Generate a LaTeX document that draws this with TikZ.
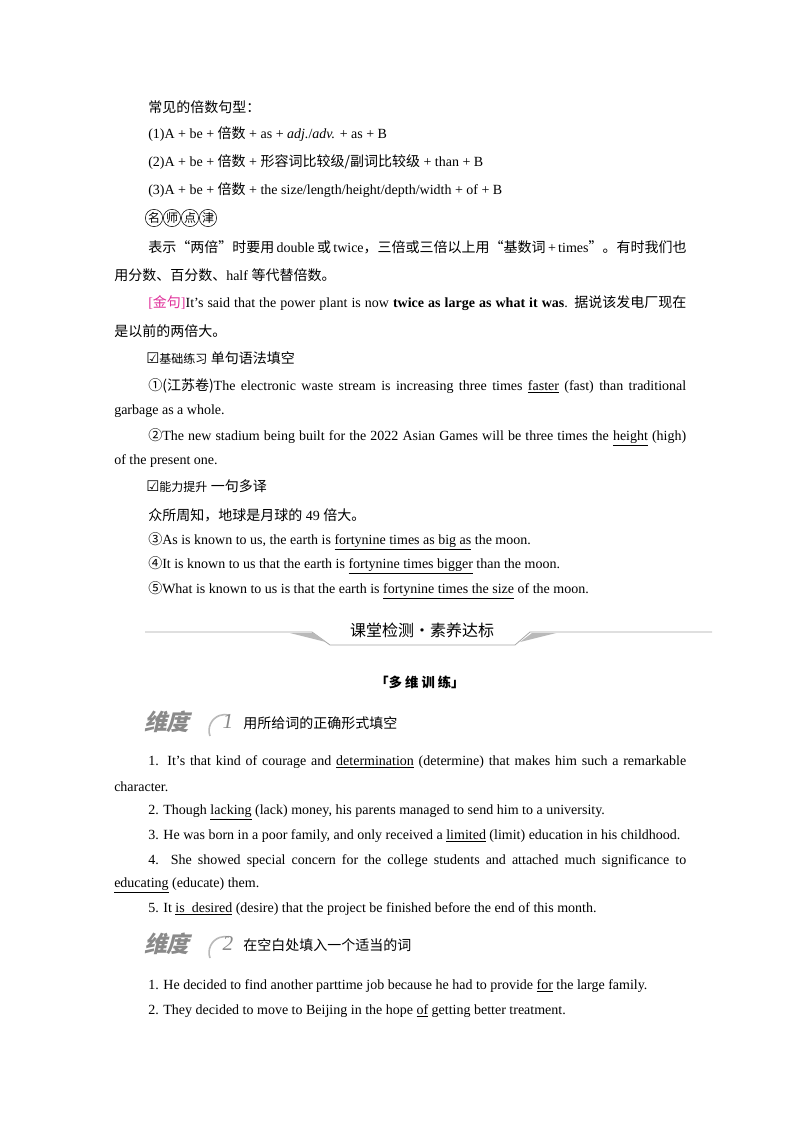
\documentclass[tikz,border=0pt]{standalone}
\usepackage{fontspec}
\setmainfont{Liberation Serif}
\newfontfamily\cjk{Noto Sans CJK SC}
\newfontfamily\dvs{DejaVu Sans}
\newcommand\zh[1]{{\cjk #1}}
\newcommand\jl[1]{\makebox[403.5pt][s]{#1}}
\definecolor{mag}{HTML}{E0309A}
\definecolor{ic}{HTML}{8A8A8A}
\begin{document}
\begin{tikzpicture}[x=0.75pt,y=-0.75pt,
  tx/.style={anchor=west,inner sep=0pt,font=\fontsize{10.5}{12}\selectfont},
  circ/.style={draw,circle,inner sep=0pt,minimum size=13pt,font=\fontsize{9}{10}\selectfont\cjk},
  gr/.style={draw=gray!70,line width=0.6pt},
  wedge/.style={fill=gray!55,draw=none}]
\useasboundingbox[fill=white] (0,0) rectangle (800,1132);
\node[tx] (a1) at (148,107) {\zh{常见的倍数句型：}};
\node[tx] (a2) at (148,134) {(1)A + be + \zh{倍数} + as + \textit{adj.}/\textit{adv.} + as + B};
\node[tx] (a3) at (148,162) {(2)A + be + \zh{倍数} + \zh{形容词比较级/副词比较级} + than + B};
\node[tx] (a4) at (148,190) {(3)A + be + \zh{倍数} + the size/length/height/depth/width + of + B};
\node[circ] (c1) at (154,218) {名};
\node[circ] (c2) at (172,218) {师};
\node[circ] (c3) at (190,218) {点};
\node[circ] (c4) at (208,218) {津};
\node[tx] (a5) at (148,247) {\jl{\zh{表示“两倍”时要用} double \zh{或} twice\zh{，三倍或三倍以上用“基数词} + times\zh{”。有时我们也}}};
\node[tx] (a6) at (114,275) {\zh{用分数、百分数、}half \zh{等代替倍数。}};
\node[tx] (a7) at (148,303) {\jl{\textcolor{mag}{[\zh{金句}]}It's said that the power plant is now \textbf{twice as large as what it was}. \zh{据说该发电厂现在}}};
\node[tx] (a8) at (114,331) {\zh{是以前的两倍大。}};
\node[tx] (a9) at (146,358) {{\dvs\fontsize{11}{12}\selectfont ☑}{\cjk\fontsize{9}{10}\selectfont 基础练习} \zh{单句语法填空}};
\node[tx] (b1) at (148,386) {\jl{\zh{①(江苏卷)}The electronic waste stream is increasing three times \underline{faster} (fast) than traditional}};
\node[tx] (b2) at (114,411) {garbage as a whole.};
\node[tx] (b3) at (148,437) {\jl{\zh{②}The new stadium being built for the 2022 Asian Games will be three times the \underline{height} (high)}};
\node[tx] (b4) at (114,461) {of the present one.};
\node[tx] (b5) at (146,486) {{\dvs\fontsize{11}{12}\selectfont ☑}{\cjk\fontsize{9}{10}\selectfont 能力提升} \zh{一句多译}};
\node[tx] (b6) at (148,515) {\zh{众所周知，地球是月球的} 49 \zh{倍大。}};
\node[tx] (b7) at (148,541) {\zh{③}As is known to us, the earth is \underline{fortynine\ times\ as\ big\ as} the moon.};
\node[tx] (b8) at (148,565) {\zh{④}It is known to us that the earth is \underline{fortynine\ times\ bigger} than the moon.};
\node[tx] (b9) at (148,590) {\zh{⑤}What is known to us is that the earth is \underline{fortynine\ times\ the\ size} of the moon.};
% banner
\coordinate (p0) at (145,632); \coordinate (p5) at (712,632);
\draw[gr] (p0) -- (312,632) -- (330,645) -- (515,645) -- (530,632) -- (p5);
\fill[wedge] (290,633) -- (314,633) -- (326,642) -- cycle;
\fill[wedge] (532,633) -- (556,633) -- (520,642) -- cycle;
\node[inner sep=0pt,font=\fontsize{12}{14}\selectfont\cjk] (ban) at (422,630) {课堂检测·素养达标};
\node[inner sep=0pt,font=\fontsize{10}{12}\selectfont\cjk\bfseries] (dw) at (420,682) {「多 维 训 练」};
% weidu 1
\node[anchor=west,inner sep=0pt,text=ic,font=\fontsize{17}{18}\selectfont\cjk\bfseries,xslant=0.25] (w1) at (146,722) {维度};
\draw[ic!60,line width=1.2pt] (210,736) arc[start angle=160,end angle=285,radius=16];
\node[inner sep=0pt,text=ic,font=\fontsize{16}{16}\selectfont\itshape] (n1) at (228,721) {1};
\node[tx] (w1t) at (243,723) {\zh{用所给词的正确形式填空}};
\node[tx] (d1) at (148,762) {\jl{1. It's that kind of courage and \underline{determination} (determine) that makes him such a remarkable}};
\node[tx] (d2) at (114,787) {character.};
\node[tx] (d3) at (148,812) {2. Though \underline{lacking} (lack) money, his parents managed to send him to a university.};
\node[tx] (d4) at (148,836) {3. He was born in a poor family, and only received a \underline{limited} (limit) education in his childhood.};
\node[tx] (d5) at (148,861) {\jl{4. She showed special concern for the college students and attached much significance to}};
\node[tx] (d6) at (114,885) {\underline{educating} (educate) them.};
\node[tx] (d7) at (148,909) {5. It \underline{is\ \ desired} (desire) that the project be finished before the end of this month.};
% weidu 2
\node[anchor=west,inner sep=0pt,text=ic,font=\fontsize{17}{18}\selectfont\cjk\bfseries,xslant=0.25] (w2) at (146,944) {维度};
\draw[ic!60,line width=1.2pt] (210,958) arc[start angle=160,end angle=285,radius=16];
\node[inner sep=0pt,text=ic,font=\fontsize{16}{16}\selectfont\itshape] (n2) at (228,943) {2};
\node[tx] (w2t) at (243,945) {\zh{在空白处填入一个适当的词}};
\node[tx] (e1) at (148,986) {1. He decided to find another parttime job because he had to provide \underline{for} the large family.};
\node[tx] (e2) at (148,1011) {2. They decided to move to Beijing in the hope \underline{of} getting better treatment.};
\end{tikzpicture}
\end{document}
